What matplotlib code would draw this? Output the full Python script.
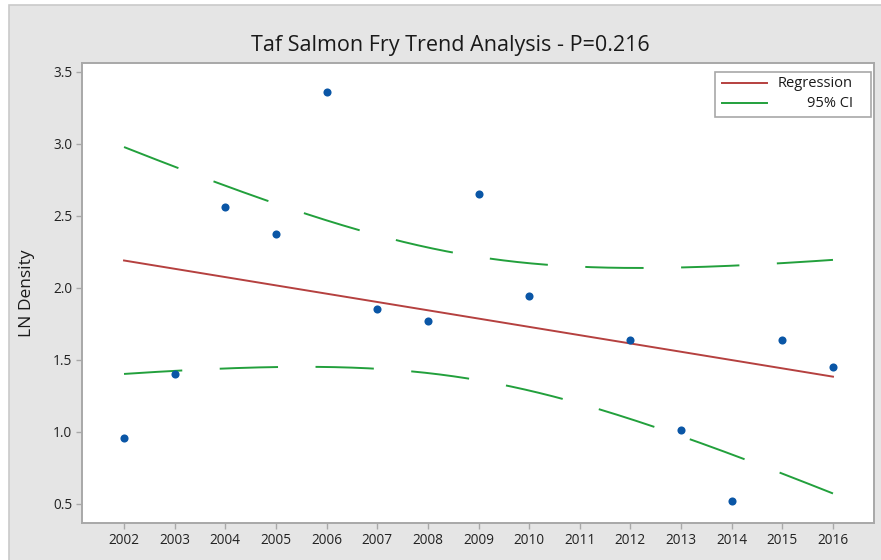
import numpy as np
import matplotlib.pyplot as plt
from matplotlib.patches import Rectangle

# yearly LN density of salmon fry (no survey in 2011)
years = [2002, 2003, 2004, 2005, 2006, 2007, 2008, 2009, 2010, 2012, 2013, 2014, 2015, 2016]
ln_density = [0.96, 1.40, 2.56, 2.37, 3.36, 1.85, 1.77, 2.65, 1.94, 1.64, 1.01, 0.52, 1.64, 1.45]
year_ticks = list(range(2002, 2017))
density_ticks = [0.5, 1.0, 1.5, 2.0, 2.5, 3.0, 3.5]
title = 'Taf Salmon Fry Trend Analysis - P=0.216'
legend_labels = ['Regression', '95% CI']
t_crit = 2.179  # two-sided 95%, 12 df

# least squares fit and confidence band for the mean response
x = np.array(years, dtype=float)
y = np.array(ln_density)
slope, intercept = np.polyfit(x, y, 1)
n = len(x)
s = np.sqrt(np.sum((y - (slope * x + intercept)) ** 2) / (n - 2))
sxx = np.sum((x - x.mean()) ** 2)
xx = np.linspace(x.min(), x.max(), 300)
fit = slope * xx + intercept
half = t_crit * s * np.sqrt(1 / n + (xx - x.mean()) ** 2 / sxx)

plt.rcParams['font.family'] = ['Open Sans', 'DejaVu Sans']
plt.rcParams['lines.scale_dashes'] = False

red = '#b5403f'
green = '#22a03c'
blue = '#0a56a6'
grey = '#a8a8a8'

W, H = 881, 560
fig = plt.figure(figsize=(W / 100, H / 100), dpi=100, facecolor='white')
fig.patches.append(Rectangle((9 / W, -0.01), 1.0, 1.01 - 5 / H, transform=fig.transFigure,
                             facecolor='#e5e5e5', edgecolor='#cacaca', lw=1.2, zorder=-1))

ax = fig.add_axes([82 / W, 1 - 523 / H, 792 / W, 460 / H])
ax.set_facecolor('white')

ax.plot(xx, fit, color=red, lw=1.4)
ax.plot(xx, fit + half, color=green, lw=1.4, dashes=(42, 27))
ax.plot(xx, fit - half, color=green, lw=1.4, dashes=(42, 27))
ax.scatter(x, y, s=34, color=blue, zorder=3, linewidths=0)

ax.set_xlim(2001.17, 2016.81)
ax.set_ylim(0.368, 3.559)
ax.set_xticks(year_ticks)
ax.set_yticks(density_ticks)
ax.set_yticklabels([f'{v:.1f}' for v in density_ticks])
for sp in ax.spines.values():
    sp.set_color(grey)
    sp.set_linewidth(1.4)
ax.tick_params(color=grey, length=4, width=1, labelsize=9.8, labelcolor='#222222', pad=3)

fig.text(450 / W, 1 - 45 / H, title, fontsize=15.5, ha='center', va='center', color='#1a1a1a')
fig.text(27 / W, 1 - 293 / H, 'LN Density', fontsize=12.5, rotation=90,
         ha='center', va='center', color='#1a1a1a')

# legend box with right aligned labels
ax.add_patch(Rectangle((0.799, 0.883), 0.197, 0.097, transform=ax.transAxes,
                       facecolor='white', edgecolor=grey, lw=1.2, zorder=4))
for i, (lab, col) in enumerate(zip(legend_labels, [red, green])):
    ly = 0.9565 - i * 0.0435
    ax.plot([0.808, 0.865], [ly, ly], color=col, lw=1.4, transform=ax.transAxes, zorder=5)
    ax.text(0.9735, ly, lab, fontsize=10.5, ha='right', va='center',
            transform=ax.transAxes, zorder=5, color='#1a1a1a')

fig.savefig('out.png', dpi=100, facecolor=fig.get_facecolor())
